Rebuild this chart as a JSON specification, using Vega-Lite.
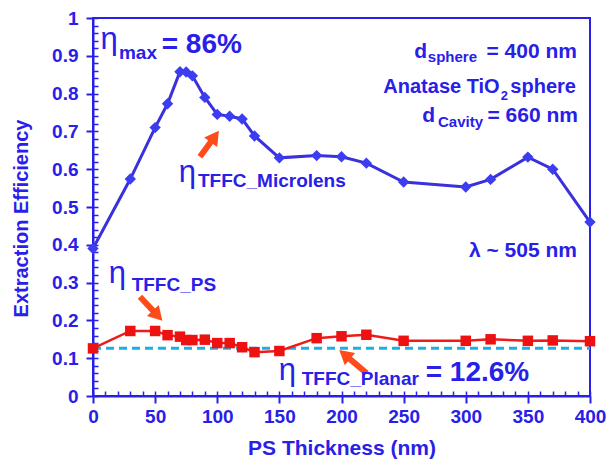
{
  "$schema": "https://vega.github.io/schema/vega-lite/v6.json",
  "width": 497,
  "height": 378,
  "autosize": "none",
  "padding": {"left": 93, "top": 18, "right": 18, "bottom": 68},
  "background": "white",
  "config": {
    "view": {"stroke": "#2820e8", "strokeWidth": 2},
    "font": "Liberation Sans"
  },
  "datasets": {
    "microlens": [
      {"thickness": 0, "efficiency": 0.39}, {"thickness": 30, "efficiency": 0.574},
      {"thickness": 50, "efficiency": 0.71}, {"thickness": 60, "efficiency": 0.773},
      {"thickness": 70, "efficiency": 0.858}, {"thickness": 75, "efficiency": 0.857},
      {"thickness": 80, "efficiency": 0.847}, {"thickness": 90, "efficiency": 0.79},
      {"thickness": 100, "efficiency": 0.745}, {"thickness": 110, "efficiency": 0.74},
      {"thickness": 120, "efficiency": 0.733}, {"thickness": 130, "efficiency": 0.688},
      {"thickness": 150, "efficiency": 0.63}, {"thickness": 180, "efficiency": 0.636},
      {"thickness": 200, "efficiency": 0.633}, {"thickness": 220, "efficiency": 0.616},
      {"thickness": 250, "efficiency": 0.566}, {"thickness": 300, "efficiency": 0.553},
      {"thickness": 320, "efficiency": 0.573}, {"thickness": 350, "efficiency": 0.632},
      {"thickness": 370, "efficiency": 0.6}, {"thickness": 400, "efficiency": 0.46}
    ],
    "ps": [
      {"thickness": 0, "efficiency": 0.126}, {"thickness": 30, "efficiency": 0.172},
      {"thickness": 50, "efficiency": 0.172}, {"thickness": 60, "efficiency": 0.161},
      {"thickness": 70, "efficiency": 0.157}, {"thickness": 75, "efficiency": 0.148},
      {"thickness": 80, "efficiency": 0.148}, {"thickness": 90, "efficiency": 0.149},
      {"thickness": 100, "efficiency": 0.14}, {"thickness": 110, "efficiency": 0.14},
      {"thickness": 120, "efficiency": 0.129}, {"thickness": 130, "efficiency": 0.116},
      {"thickness": 150, "efficiency": 0.119}, {"thickness": 180, "efficiency": 0.153},
      {"thickness": 200, "efficiency": 0.158}, {"thickness": 220, "efficiency": 0.162},
      {"thickness": 250, "efficiency": 0.146}, {"thickness": 300, "efficiency": 0.146},
      {"thickness": 320, "efficiency": 0.15}, {"thickness": 350, "efficiency": 0.146},
      {"thickness": 370, "efficiency": 0.147}, {"thickness": 400, "efficiency": 0.145}
    ],
    "planar": [{"start": 0, "end": 400, "efficiency": 0.126}],
    "arrows": [
      {"id": "microlens", "tx": 86.1, "ty": 0.633, "hx": 98.0, "hy": 0.6865},
      {"id": "ps", "tx": 37.8, "ty": 0.2627, "hx": 52.0, "hy": 0.2127},
      {"id": "planar", "tx": 220.3, "ty": 0.06, "hx": 202.5, "hy": 0.1095}
    ],
    "notes": [
      {"role": "eta", "x": 6.0, "y": 0.918, "label": "η"},
      {"role": "eta", "x": 69.0, "y": 0.566, "label": "η"},
      {"role": "eta", "x": 12.7, "y": 0.299, "label": "η"},
      {"role": "eta", "x": 149.5, "y": 0.0423, "label": "η"},
      {"role": "big", "x": 55.3, "y": 0.9074, "label": "= 86%"},
      {"role": "big", "x": 267.8, "y": 0.0405, "label": "= 12.6%"},
      {"role": "sub", "x": 20.9, "y": 0.8915, "label": "max"},
      {"role": "sub", "x": 84.5, "y": 0.553, "label": "TFFC_Microlens"},
      {"role": "sub", "x": 31.1, "y": 0.2765, "label": "TFFC_PS"},
      {"role": "sub", "x": 168.0, "y": 0.029, "label": "TFFC_Planar"},
      {"role": "right", "x": 268.8, "y": 0.894, "label": "d"},
      {"role": "right", "x": 389.5, "y": 0.894, "label": "= 400 nm"},
      {"role": "right", "x": 275.3, "y": 0.7249, "label": "d"},
      {"role": "right", "x": 390.3, "y": 0.7249, "label": "= 660 nm"},
      {"role": "right", "x": 389.5, "y": 0.3677, "label": "λ ~ 505 nm"},
      {"role": "right20", "x": 327.3, "y": 0.8016, "label": "Anatase TiO"},
      {"role": "right20", "x": 388.7, "y": 0.8016, "label": "sphere"},
      {"role": "rightsub", "x": 309.1, "y": 0.8836, "label": "sphere"},
      {"role": "rightsub", "x": 313.9, "y": 0.7116, "label": "Cavity"},
      {"role": "tinysub", "x": 328.1, "y": 0.7831, "label": "2"}
    ]
  },
  "layer": [
    {
      "data": {"name": "microlens"},
      "mark": {"type": "line", "color": "#3a30dc", "strokeWidth": 3,
               "point": {"shape": "diamond", "size": 130, "filled": true, "color": "#3c3cf0", "opacity": 1}},
      "encoding": {
        "x": {"field": "thickness", "type": "quantitative",
              "scale": {"domain": [0, 400], "nice": false},
              "axis": {"values": [0, 50, 100, 150, 200, 250, 300, 350, 400], "grid": false,
                       "tickSize": 7, "tickWidth": 2, "tickColor": "#2820e8",
                       "domainColor": "#2820e8", "domainWidth": 2,
                       "labelFont": "Liberation Sans", "labelFontWeight": "bold", "labelFontSize": 19,
                       "labelColor": "#2820e8", "labelPadding": 4, "labelFlush": false,
                       "title": "PS Thickness (nm)", "titleFont": "Liberation Sans", "titleFontWeight": "bold",
                       "titleFontSize": 21, "titleColor": "#2820e8", "titlePadding": 11}},
        "y": {"field": "efficiency", "type": "quantitative",
              "scale": {"domain": [0, 1], "nice": false},
              "axis": {"values": [0, 0.1, 0.2, 0.3, 0.4, 0.5, 0.6, 0.7, 0.8, 0.9, 1], "format": "~g", "grid": false,
                       "tickSize": 7, "tickWidth": 2, "tickColor": "#2820e8",
                       "domainColor": "#2820e8", "domainWidth": 2,
                       "labelFont": "Liberation Sans", "labelFontWeight": "bold", "labelFontSize": 19,
                       "labelColor": "#2820e8", "labelPadding": 8, "labelFlush": false,
                       "title": "Extraction Efficiency", "titleFont": "Liberation Sans", "titleFontWeight": "bold",
                       "titleFontSize": 20, "titleColor": "#2820e8", "titlePadding": 20, "titleY": 200}}
      }
    },
    {
      "data": {"name": "planar"},
      "mark": {"type": "rule", "color": "#1eaee6", "strokeWidth": 3, "strokeDash": [8, 5]},
      "encoding": {
        "x": {"field": "start", "type": "quantitative",
              "axis": {"orient": "bottom", "values": [0,10,20,30,40,50,60,70,80,90,100,110,120,130,140,150,160,170,180,190,200,210,220,230,240,250,260,270,280,290,300,310,320,330,340,350,360,370,380,390,400],
                       "tickSize": -5, "tickWidth": 1.5, "tickColor": "#2820e8", "labels": false, "domain": false, "grid": false, "title": null}},
        "x2": {"field": "end"},
        "y": {"field": "efficiency", "type": "quantitative",
              "axis": {"orient": "left", "values": [0,0.02,0.04,0.06,0.08,0.1,0.12,0.14,0.16,0.18,0.2,0.22,0.24,0.26,0.28,0.3,0.32,0.34,0.36,0.38,0.4,0.42,0.44,0.46,0.48,0.5,0.52,0.54,0.56,0.58,0.6,0.62,0.64,0.66,0.68,0.7,0.72,0.74,0.76,0.78,0.8,0.82,0.84,0.86,0.88,0.9,0.92,0.94,0.96,0.98,1],
                       "tickSize": -5, "tickWidth": 1.5, "tickColor": "#2820e8", "labels": false, "domain": false, "grid": false, "title": null}}
      }
    },
    {
      "data": {"name": "ps"},
      "mark": {"type": "line", "color": "#ee1b1b", "strokeWidth": 2.5,
               "point": {"shape": "square", "size": 110, "filled": true, "color": "#ee1111", "opacity": 1}},
      "encoding": {
        "x": {"field": "thickness", "type": "quantitative", "axis": null},
        "y": {"field": "efficiency", "type": "quantitative", "axis": null}
      }
    },
    {
      "data": {"name": "arrows"},
      "mark": {"type": "rule", "color": "#ff4a1a", "strokeWidth": 6},
      "encoding": {
        "x": {"field": "tx", "type": "quantitative", "axis": null},
        "y": {"field": "ty", "type": "quantitative", "axis": null},
        "x2": {"field": "hx"},
        "y2": {"field": "hy"}
      }
    },
    {
      "data": {"name": "arrows"},
      "transform": [{"filter": "datum.id === 'microlens'"}],
      "mark": {"type": "point", "shape": "triangle-up", "size": 260, "filled": true, "color": "#ff4a1a", "opacity": 1, "angle": 36},
      "encoding": {
        "x": {"field": "hx", "type": "quantitative", "axis": null},
        "y": {"field": "hy", "type": "quantitative", "axis": null}
      }
    },
    {
      "data": {"name": "arrows"},
      "transform": [{"filter": "datum.id === 'ps'"}],
      "mark": {"type": "point", "shape": "triangle-up", "size": 260, "filled": true, "color": "#ff4a1a", "opacity": 1, "angle": 137},
      "encoding": {
        "x": {"field": "hx", "type": "quantitative", "axis": null},
        "y": {"field": "hy", "type": "quantitative", "axis": null}
      }
    },
    {
      "data": {"name": "arrows"},
      "transform": [{"filter": "datum.id === 'planar'"}],
      "mark": {"type": "point", "shape": "triangle-up", "size": 260, "filled": true, "color": "#ff4a1a", "opacity": 1, "angle": 310},
      "encoding": {
        "x": {"field": "hx", "type": "quantitative", "axis": null},
        "y": {"field": "hy", "type": "quantitative", "axis": null}
      }
    },
    {
      "data": {"name": "notes"},
      "transform": [{"filter": "datum.role === 'eta'"}],
      "mark": {"type": "text", "font": "Liberation Sans", "fontSize": 31, "color": "#2820e8", "align": "left", "baseline": "alphabetic"},
      "encoding": {
        "x": {"field": "x", "type": "quantitative", "axis": null},
        "y": {"field": "y", "type": "quantitative", "axis": null},
        "text": {"field": "label"}
      }
    },
    {
      "data": {"name": "notes"},
      "transform": [{"filter": "datum.role === 'big'"}],
      "mark": {"type": "text", "font": "Liberation Sans", "fontWeight": "bold", "fontSize": 28, "color": "#2820e8", "align": "left", "baseline": "alphabetic"},
      "encoding": {
        "x": {"field": "x", "type": "quantitative", "axis": null},
        "y": {"field": "y", "type": "quantitative", "axis": null},
        "text": {"field": "label"}
      }
    },
    {
      "data": {"name": "notes"},
      "transform": [{"filter": "datum.role === 'sub'"}],
      "mark": {"type": "text", "font": "Liberation Sans", "fontWeight": "bold", "fontSize": 19, "color": "#2820e8", "align": "left", "baseline": "alphabetic"},
      "encoding": {
        "x": {"field": "x", "type": "quantitative", "axis": null},
        "y": {"field": "y", "type": "quantitative", "axis": null},
        "text": {"field": "label"}
      }
    },
    {
      "data": {"name": "notes"},
      "transform": [{"filter": "datum.role === 'right'"}],
      "mark": {"type": "text", "font": "Liberation Sans", "fontWeight": "bold", "fontSize": 21, "color": "#2820e8", "align": "right", "baseline": "alphabetic"},
      "encoding": {
        "x": {"field": "x", "type": "quantitative", "axis": null},
        "y": {"field": "y", "type": "quantitative", "axis": null},
        "text": {"field": "label"}
      }
    },
    {
      "data": {"name": "notes"},
      "transform": [{"filter": "datum.role === 'right20'"}],
      "mark": {"type": "text", "font": "Liberation Sans", "fontWeight": "bold", "fontSize": 20, "color": "#2820e8", "align": "right", "baseline": "alphabetic"},
      "encoding": {
        "x": {"field": "x", "type": "quantitative", "axis": null},
        "y": {"field": "y", "type": "quantitative", "axis": null},
        "text": {"field": "label"}
      }
    },
    {
      "data": {"name": "notes"},
      "transform": [{"filter": "datum.role === 'rightsub'"}],
      "mark": {"type": "text", "font": "Liberation Sans", "fontWeight": "bold", "fontSize": 15, "color": "#2820e8", "align": "right", "baseline": "alphabetic"},
      "encoding": {
        "x": {"field": "x", "type": "quantitative", "axis": null},
        "y": {"field": "y", "type": "quantitative", "axis": null},
        "text": {"field": "label"}
      }
    },
    {
      "data": {"name": "notes"},
      "transform": [{"filter": "datum.role === 'tinysub'"}],
      "mark": {"type": "text", "font": "Liberation Sans", "fontWeight": "bold", "fontSize": 13, "color": "#2820e8", "align": "left", "baseline": "alphabetic"},
      "encoding": {
        "x": {"field": "x", "type": "quantitative", "axis": null},
        "y": {"field": "y", "type": "quantitative", "axis": null},
        "text": {"field": "label"}
      }
    }
  ],
  "resolve": {"axis": {"x": "independent", "y": "independent"}}
}
